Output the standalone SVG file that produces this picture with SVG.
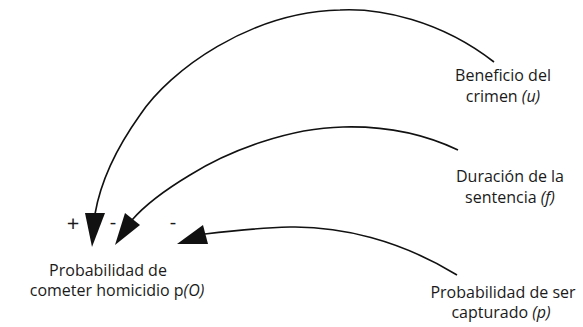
<svg xmlns="http://www.w3.org/2000/svg" width="583" height="327" viewBox="0 0 583 327">
<style>
text{font-family:"Open Sans","Noto Sans","DejaVu Sans",sans-serif;font-size:16px;fill:#1a1a1a;text-anchor:middle}
.i{font-style:italic}
.plus{font-size:22px}
.minus{font-size:20px}
.curve{fill:none;stroke:#111;stroke-width:1.6}
.head{fill:#111;stroke:none}
</style>
<rect width="583" height="327" fill="#fff"/>
<g id="connectors">
<path class="curve" d="M494,62 C440,20 380,8 340,10 C250,12 170,70 140,115 C115,150 100,185 95,214"/>
<polygon class="head" points="92,247 85,213 105,213"/>
<path class="curve" d="M458,150 C420,132 380,126 343,127 C290,128 230,150 190,175 C165,190 145,205 132,220"/>
<polygon class="head" points="115,245 125,213 140,225"/>
<path class="curve" d="M457,275 C400,240 340,226 290,227 C255,228 230,231 205,234"/>
<polygon class="head" points="177,244 203,225 208,244"/>
</g>
<g id="signs">
<text class="plus" x="73" y="231">+</text>
<text class="minus" x="113" y="229">-</text>
<text class="minus" x="173" y="229">-</text>
</g>
<g id="node-homicidio">
<text x="108" y="276">Probabilidad de</text>
<text x="117" y="296">cometer homicidio p<tspan class="i">(O)</tspan></text>
</g>
<g id="node-beneficio">
<text x="503" y="81">Beneficio del</text>
<text x="503" y="102">crimen <tspan class="i">(u)</tspan></text>
</g>
<g id="node-duracion">
<text x="510" y="182">Duración de la</text>
<text x="510" y="203">sentencia <tspan class="i">(f)</tspan></text>
</g>
<g id="node-captura">
<text x="503" y="298">Probabilidad de ser</text>
<text x="501" y="318">capturado <tspan class="i">(p)</tspan></text>
</g>
</svg>
